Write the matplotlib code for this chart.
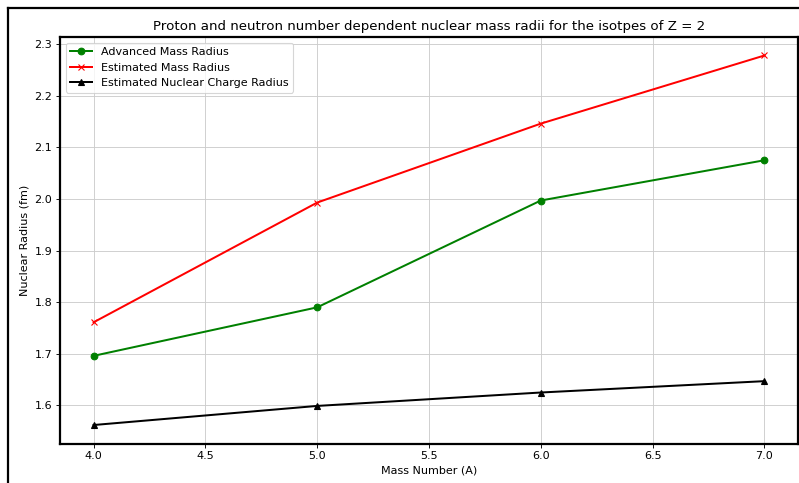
import matplotlib
matplotlib.use("Agg")
import matplotlib.pyplot as plt
from matplotlib.lines import Line2D

mass_number = [4, 5, 6, 7]
advanced_mass_radius = [1.696, 1.790, 1.997, 2.075]
estimated_mass_radius = [1.761, 1.993, 2.146, 2.278]
charge_radius = [1.562, 1.599, 1.625, 1.647]

# original screenshot looks like a figure rendered at ~80 dpi
fig = plt.figure(figsize=(799 / 80, 483 / 80), dpi=80)
ax = fig.add_axes([60 / 799, 1 - 443.5 / 483, 738 / 799, (443.5 - 37) / 483])

ax.plot(mass_number, advanced_mass_radius, marker='o', color='green', lw=1.8, label='Advanced Mass Radius')
ax.plot(mass_number, estimated_mass_radius, marker='x', color='red', lw=1.8, label='Estimated Mass Radius')
ax.plot(mass_number, charge_radius, marker='^', color='black', lw=1.8, label='Estimated Nuclear Charge Radius')

ax.set_title('Proton and neutron number dependent nuclear mass radii for the isotpes of Z = 2')
ax.set_xlabel('Mass Number (A)')
ax.set_ylabel('Nuclear Radius (fm)')
ax.grid(True, color='#cccccc')
ax.legend(loc='upper left')
for s in ax.spines.values():
    s.set_linewidth(2)

# screenshot frame
fig.add_artist(Line2D([8 / 799, 8 / 799], [0, 1 - 8 / 483], transform=fig.transFigure, color='black', lw=2))
fig.add_artist(Line2D([8 / 799, 1], [1 - 8 / 483, 1 - 8 / 483], transform=fig.transFigure, color='black', lw=2))

fig.savefig('out.png', dpi=80)
